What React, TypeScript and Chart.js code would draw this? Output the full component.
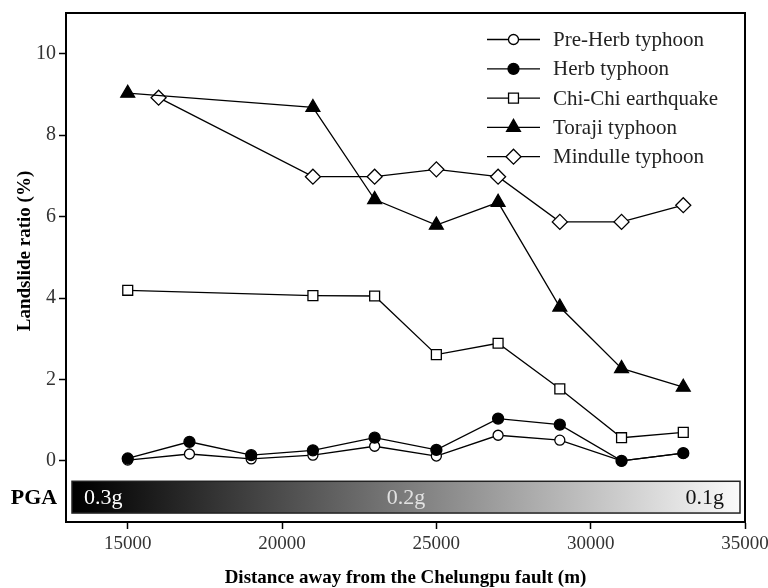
import React, { useEffect, useRef } from 'react';
import { Chart, registerables } from 'chart.js';

Chart.register(...registerables);

// ---- data ----
const preHerbX = [15000, 17000, 19000, 21000, 23000, 25000, 27000, 29000, 31000, 33000];
const preHerb = [0.02, 0.17, 0.05, 0.14, 0.36, 0.12, 0.63, 0.51, 0.0, 0.19];
const herbX = [15000, 17000, 19000, 21000, 23000, 25000, 27000, 29000, 31000, 33000];
const herb = [0.06, 0.47, 0.14, 0.26, 0.57, 0.27, 1.04, 0.89, 0.0, 0.19];
const chiChiX = [15000, 21000, 23000, 25000, 27000, 29000, 31000, 33000];
const chiChi = [4.19, 4.06, 4.05, 2.61, 2.89, 1.77, 0.57, 0.7];
const torajiX = [15000, 21000, 23000, 25000, 27000, 29000, 31000, 33000];
const toraji = [9.03, 8.68, 6.42, 5.79, 6.35, 3.78, 2.27, 1.81];
const mindulleX = [16000, 21000, 23000, 25000, 27000, 29000, 31000, 33000];
const mindulle = [8.92, 6.98, 6.98, 7.16, 6.98, 5.87, 5.87, 6.28];

const seriesNames = ['Pre-Herb typhoon', 'Herb typhoon', 'Chi-Chi earthquake', 'Toraji typhoon', 'Mindulle typhoon'];
const xTicks = [15000, 20000, 25000, 30000, 35000];
const yTicks = [0, 2, 4, 6, 8, 10];
const pgaLabels = ['0.3g', '0.2g', '0.1g'];
const xTitle = 'Distance away from the Chelungpu fault (m)';
const yTitle = 'Landslide ratio (%)';
const pgaTitle = 'PGA';

const SERIF = '"Liberation Serif", "DejaVu Serif", serif';

type Marker = { style: string; r: number; fill: string };
const markers: Marker[] = [
  { style: 'circle', r: 5, fill: '#fff' },
  { style: 'circle', r: 5.5, fill: '#000' },
  { style: 'rect', r: 7, fill: '#fff' },
  { style: 'triangle', r: 8, fill: '#000' },
  { style: 'rectRot', r: 7.5, fill: '#fff' },
];

function drawMarker(ctx: CanvasRenderingContext2D, m: Marker, x: number, y: number) {
  ctx.save();
  ctx.beginPath();
  const r = m.r;
  if (m.style === 'circle') {
    ctx.arc(x, y, r, 0, Math.PI * 2);
  } else if (m.style === 'rect') {
    const s = r * Math.SQRT1_2;
    ctx.rect(x - s, y - s, 2 * s, 2 * s);
  } else if (m.style === 'triangle') {
    for (let i = 0; i < 3; i++) {
      const a = (i * 2 * Math.PI) / 3;
      const px = x + Math.sin(a) * r;
      const py = y - Math.cos(a) * r;
      if (i === 0) ctx.moveTo(px, py);
      else ctx.lineTo(px, py);
    }
    ctx.closePath();
  } else if (m.style === 'rectRot') {
    ctx.moveTo(x, y - r);
    ctx.lineTo(x + r, y);
    ctx.lineTo(x, y + r);
    ctx.lineTo(x - r, y);
    ctx.closePath();
  }
  ctx.fillStyle = m.fill;
  ctx.fill();
  ctx.lineWidth = 1.3;
  ctx.strokeStyle = '#000';
  ctx.stroke();
  ctx.restore();
}

const decorPlugin = {
  id: 'decor',
  beforeDatasetsDraw(chart: any) {
    const { ctx, chartArea, scales } = chart;
    const ys = scales.y;
    // PGA bar
    const left = chartArea.left + 6;
    const right = chartArea.right - 5;
    const top = ys.getPixelForValue(-0.5);
    const bottom = ys.getPixelForValue(-1.28);
    ctx.save();
    const g = ctx.createLinearGradient(left, 0, right, 0);
    g.addColorStop(0, '#000');
    g.addColorStop(0.03, '#050505');
    g.addColorStop(1, '#fafafa');
    ctx.fillStyle = g;
    ctx.fillRect(left, top, right - left, bottom - top);
    ctx.lineWidth = 1.5;
    ctx.strokeStyle = '#222';
    ctx.strokeRect(left, top, right - left, bottom - top);
    const cy = (top + bottom) / 2 + 1;
    ctx.font = `22px ${SERIF}`;
    ctx.textBaseline = 'middle';
    ctx.fillStyle = '#fff';
    ctx.textAlign = 'left';
    ctx.fillText(pgaLabels[0], left + 12, cy);
    ctx.fillStyle = '#e2e2e2';
    ctx.textAlign = 'center';
    ctx.fillText(pgaLabels[1], (left + right) / 2, cy);
    ctx.fillStyle = '#111';
    ctx.textAlign = 'right';
    ctx.fillText(pgaLabels[2], right - 16, cy);
    // PGA title
    ctx.font = `bold 22px ${SERIF}`;
    ctx.fillStyle = '#000';
    ctx.textAlign = 'center';
    ctx.fillText(pgaTitle, chartArea.left - 32, cy);
    ctx.restore();
  },
  afterDraw(chart: any) {
    const { ctx, chartArea } = chart;
    ctx.save();
    // frame
    ctx.lineWidth = 2;
    ctx.strokeStyle = '#000';
    ctx.strokeRect(chartArea.left, chartArea.top, chartArea.right - chartArea.left, chartArea.bottom - chartArea.top);
    // axis titles
    ctx.fillStyle = '#000';
    ctx.font = `bold 19px ${SERIF}`;
    ctx.textAlign = 'center';
    ctx.textBaseline = 'middle';
    ctx.fillText(xTitle, (chartArea.left + chartArea.right) / 2, chartArea.bottom + 56);
    ctx.save();
    ctx.translate(chartArea.left - 41, chartArea.top + 238);
    ctx.rotate(-Math.PI / 2);
    ctx.fillText(yTitle, 0, 0);
    ctx.restore();
    // legend
    const lx0 = chartArea.right - 258;
    const lx1 = chartArea.right - 205;
    const tx = chartArea.right - 192;
    ctx.font = `21px ${SERIF}`;
    ctx.textAlign = 'left';
    ctx.textBaseline = 'middle';
    seriesNames.forEach((name, i) => {
      const y = chartArea.top + 26.5 + i * 29.3;
      ctx.beginPath();
      ctx.moveTo(lx0, y);
      ctx.lineTo(lx1, y);
      ctx.lineWidth = 1.3;
      ctx.strokeStyle = '#000';
      ctx.stroke();
      drawMarker(ctx, markers[i], (lx0 + lx1) / 2, y);
      ctx.fillStyle = '#222';
      ctx.fillText(name, tx, y + 1);
    });
    ctx.restore();
  },
};

function pts(xs: number[], ys: number[]) {
  return xs.map((x, i) => ({ x, y: ys[i] }));
}

export default function App() {
  const ref = useRef<HTMLCanvasElement | null>(null);
  useEffect(() => {
    if (!ref.current) return;
    const mk = (i: number, data: any[], order: number) => ({
      label: seriesNames[i],
      data,
      order,
      borderColor: '#000',
      borderWidth: 1.3,
      pointStyle: markers[i].style,
      pointRadius: markers[i].r,
      pointBackgroundColor: markers[i].fill,
      pointBorderColor: '#000',
      pointBorderWidth: 1.3,
      tension: 0,
      fill: false,
    });
    const chart = new Chart(ref.current, {
      type: 'line',
      data: {
        datasets: [
          mk(0, pts(preHerbX, preHerb), 1),
          mk(1, pts(herbX, herb), 0),
          mk(2, pts(chiChiX, chiChi), 0),
          mk(3, pts(torajiX, toraji), 0),
          mk(4, pts(mindulleX, mindulle), 0),
        ] as any,
      },
      options: {
        animation: false,
        responsive: false,
        layout: { padding: { left: 0, top: 13, right: 23, bottom: 0 } },
        plugins: { legend: { display: false }, tooltip: { enabled: false } },
        scales: {
          x: {
            type: 'linear',
            min: 13000,
            max: 35000,
            afterBuildTicks: (s: any) => {
              s.ticks = xTicks.map((v) => ({ value: v }));
            },
            afterFit: (s: any) => {
              s.height = 66;
              s.paddingLeft = 0;
              s.paddingRight = 0;
            },
            grid: { drawOnChartArea: false, drawTicks: true, tickLength: 7, tickColor: '#000', tickWidth: 1.5 },
            border: { display: true, color: '#000', width: 2 },
            ticks: {
              color: '#333',
              padding: 4,
              font: { family: SERIF, size: 19 },
              maxRotation: 0,
              callback: (v: any) => String(v),
            },
          },
          y: {
            type: 'linear',
            min: -1.5,
            max: 11,
            afterBuildTicks: (s: any) => {
              s.ticks = yTicks.map((v) => ({ value: v }));
            },
            afterFit: (s: any) => {
              s.width = 66;
              s.paddingTop = 0;
              s.paddingBottom = 0;
            },
            grid: { drawOnChartArea: false, drawTicks: true, tickLength: 7, tickColor: '#000', tickWidth: 1.5 },
            border: { display: true, color: '#000', width: 2 },
            ticks: { color: '#333', padding: 3, font: { family: SERIF, size: 20 }, callback: (v: any) => String(v) },
          },
        },
      },
      plugins: [decorPlugin],
    });
    return () => chart.destroy();
  }, []);
  return (
    <div style={{ position: 'absolute', left: 0, top: 0, width: 768, height: 588, background: '#fff' }}>
      <canvas ref={ref} width={768} height={588} />
    </div>
  );
}
